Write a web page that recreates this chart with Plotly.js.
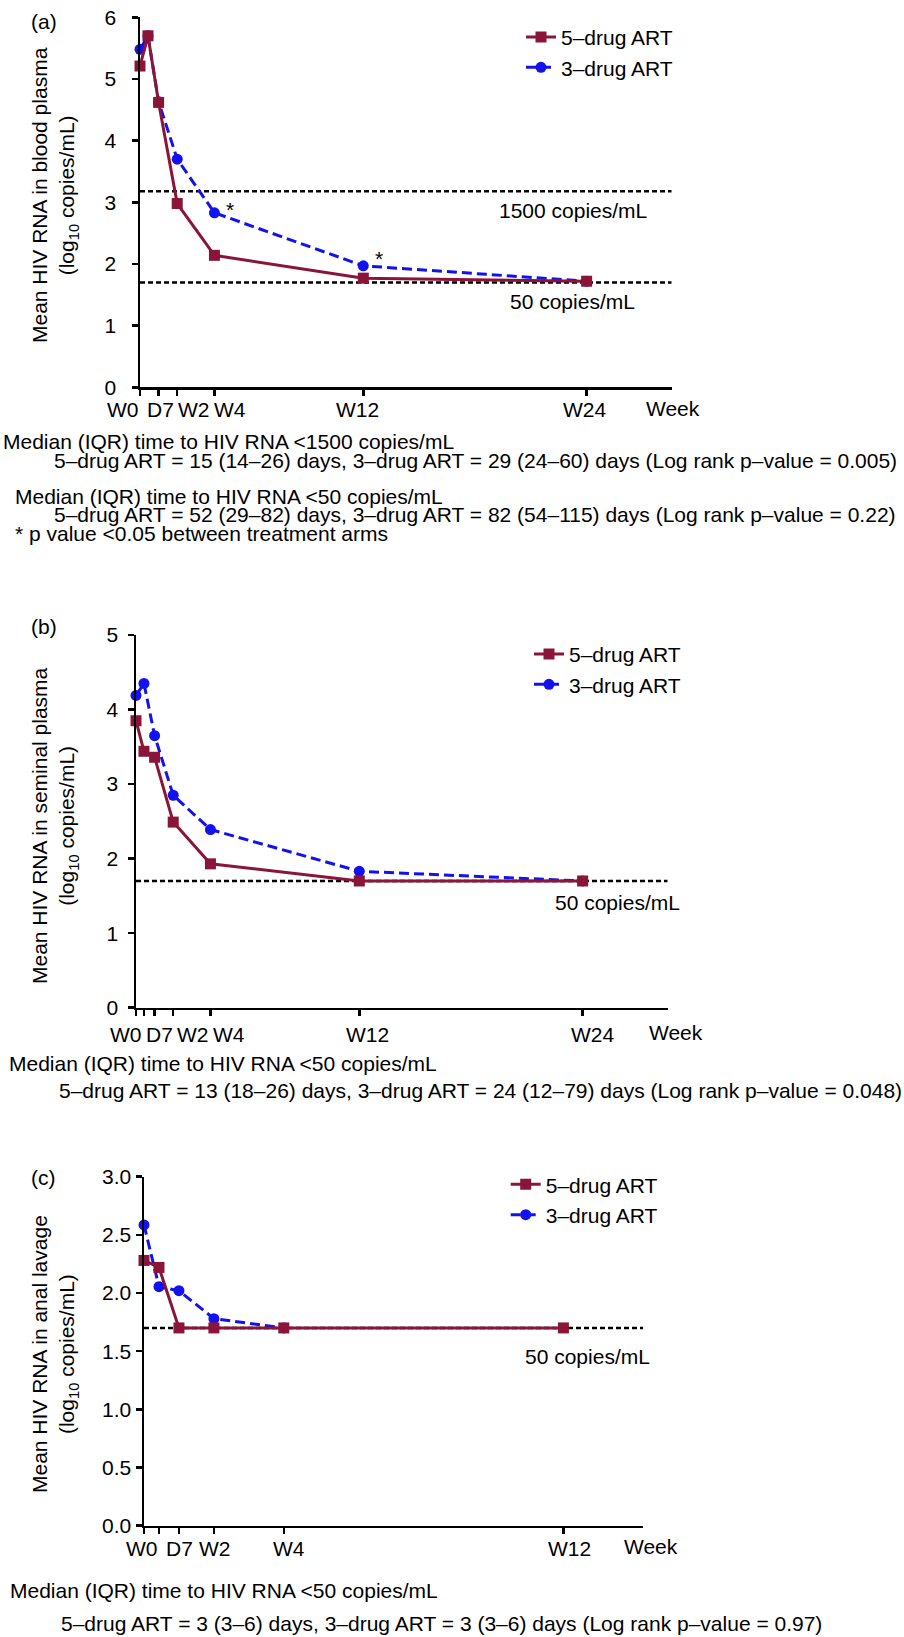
<!DOCTYPE html>
<html><head><meta charset="utf-8">
<script src="https://cdn.plot.ly/plotly-3.0.1.min.js"></script>
<style>html,body{margin:0;padding:0;background:#fff}</style>
</head><body>
<div id="chart" style="width:904px;height:1637px"></div>
<script>
// ---------------- data ----------------
const seriesNames = ['5–drug ART', '3–drug ART'];

// (a) blood plasma
const bloodDays5 = [0, 3, 7, 14, 28, 84, 168];
const blood5 = [5.21, 5.70, 4.62, 2.98, 2.14, 1.77, 1.72];
const bloodDays3 = [0, 3, 7, 14, 28, 84, 168];
const blood3 = [5.48, 5.70, 4.63, 3.70, 2.83, 1.97, 1.72];
const bloodTickDays = [0, 7, 14, 28, 84, 168];
const bloodTickLabels = ['W0', 'D7', 'W2', 'W4', 'W12', 'W24'];
const bloodRefLevels = [3.18, 1.70];
const bloodRefLabels = ['1500 copies/mL', '50 copies/mL'];
const bloodStarDays = [28, 84];
const bloodText = [
  'Median (IQR) time to HIV RNA &lt;1500 copies/mL',
  '5–drug ART = 15 (14–26) days, 3–drug ART = 29 (24–60) days (Log rank p–value = 0.005)',
  'Median (IQR) time to HIV RNA &lt;50 copies/mL',
  '5–drug ART = 52 (29–82) days, 3–drug ART = 82 (54–115) days (Log rank p–value = 0.22)',
  '* p value &lt;0.05 between treatment arms'
];

// (b) seminal plasma
const semenDays5 = [0, 3, 7, 14, 28, 84, 168];
const semen5 = [3.85, 3.44, 3.36, 2.49, 1.93, 1.70, 1.70];
const semenDays3 = [0, 3, 7, 14, 28, 84, 168];
const semen3 = [4.19, 4.35, 3.65, 2.85, 2.39, 1.83, 1.70];
const semenTickDays = [0, 3, 7, 14, 28, 84, 168];
const semenTickLabels = ['W0', '', 'D7', 'W2', 'W4', 'W12', 'W24'];
const semenRefLevels = [1.70];
const semenRefLabels = ['50 copies/mL'];
const semenText = [
  'Median (IQR) time to HIV RNA &lt;50 copies/mL',
  '5–drug ART = 13 (18–26) days, 3–drug ART = 24 (12–79) days (Log rank p–value = 0.048)'
];

// (c) anal lavage
const analDays5 = [0, 3, 7, 14, 28, 84];
const anal5 = [2.28, 2.22, 1.70, 1.70, 1.70, 1.70];
const analDays3 = [0, 3, 7, 14, 28];
const anal3 = [2.585, 2.055, 2.02, 1.78, 1.70];
const analTickDays = [0, 3, 7, 14, 28, 84];
const analTickLabels = ['W0', '', 'D7', 'W2', 'W4', 'W12'];
const analRefLevels = [1.70];
const analRefLabels = ['50 copies/mL'];
const analText = [
  'Median (IQR) time to HIV RNA &lt;50 copies/mL',
  '5–drug ART = 3 (3–6) days, 3–drug ART = 3 (3–6) days (Log rank p–value = 0.97)'
];

// ---------------- layout helpers ----------------
const W = 904, H = 1637;
const px = x => x / W;
const py = y => 1 - y / H;
const FONT = '"Liberation Sans", Arial, Helvetica, sans-serif';
const FS = 21;
const MAROON = '#8a1538', BLUE = '#1212ee';

const panels = [
  { tag: '(a)', sfx: '', xDom: [140, 671.7], yDom: [17.3, 387.3], xr: [0, 200], yr: [0, 6], dtick: 1, fmt: 'd',
    standoff: 11, title: 'Mean HIV RNA in blood plasma<br>(log<sub>10</sub> copies/mL)', titleY: 195,
    d5: bloodDays5, v5: blood5, d3: bloodDays3, v3: blood3,
    tickDays: bloodTickDays, tickLabels: bloodTickLabels, tickShift: [-16.7, 1.7, 16.9, 15.2, -6.3, -2], tickLabelY: 410,
    weekX: 673, ref: bloodRefLevels, refLab: bloodRefLabels, refLabPos: [[572.7, 210], [572.8, 301.7]],
    legendPos: [521, 16.85], labelY: 21.7,
    text: bloodText, textPos: [[1, 441.7], [51.7, 460], [13.3, 496.7], [51.7, 515], [13, 533]] },
  { tag: '(b)', sfx: '2', xDom: [136, 667.7], yDom: [635, 1007.7], xr: [0, 200], yr: [0, 5], dtick: 1, fmt: 'd',
    standoff: 5, title: 'Mean HIV RNA in seminal plasma<br>(log<sub>10</sub> copies/mL)', titleY: 826,
    d5: semenDays5, v5: semen5, d3: semenDays3, v3: semen3,
    tickDays: semenTickDays, tickLabels: semenTickLabels, tickShift: [-10, 0, 5, 20, 19, 8.5, 10.5], tickLabelY: 1034,
    weekX: 676, ref: semenRefLevels, refLab: semenRefLabels, refLabPos: [[617, 902.3]],
    legendPos: [529, 633.85], labelY: 626.7,
    text: semenText, textPos: [[7.3, 1063.3], [57.3, 1090]] },
  { tag: '(c)', sfx: '3', xDom: [144, 643.3], yDom: [1176.7, 1525.7], xr: [0, 100], yr: [0, 3], dtick: 0.5, fmt: '.1f',
    standoff: 1.5, title: 'Mean HIV RNA in anal lavage<br>(log<sub>10</sub> copies/mL)', titleY: 1354,
    d5: analDays5, v5: anal5, d3: analDays3, v3: anal3,
    tickDays: analTickDays, tickLabels: analTickLabels, tickShift: [-2, 0, 1, 1, 5, 6.5], tickLabelY: 1548.3,
    weekX: 650.7, ref: analRefLevels, refLab: analRefLabels, refLabPos: [[587.3, 1356.7]],
    legendPos: [505.7, 1164.2], labelY: 1177,
    text: analText, textPos: [[8.3, 1590], [59.3, 1623.3]] }
];

const traces = [];
const shapes = [];
const annotations = [];
const layout = {
  width: W, height: H,
  margin: { l: 0, r: 0, t: 0, b: 0 },
  paper_bgcolor: '#fff', plot_bgcolor: 'rgba(0,0,0,0)',
  font: { family: FONT, size: FS, color: '#000' },
  showlegend: true,
  shapes: shapes, annotations: annotations
};

panels.forEach((p, i) => {
  const xa = 'x' + p.sfx, ya = 'y' + p.sfx;
  const legendId = 'legend' + p.sfx;
  const axCommon = {
    showline: true, linecolor: '#000', linewidth: 2.5,
    ticks: 'outside', ticklen: 6, tickwidth: 2.5, tickcolor: '#000',
    showgrid: false, zeroline: false, fixedrange: true,
    tickfont: { family: FONT, size: FS, color: '#000' }
  };
  layout['xaxis' + p.sfx] = Object.assign({}, axCommon, {
    domain: [px(p.xDom[0]), px(p.xDom[1])], range: p.xr, anchor: ya,
    tickmode: 'array', tickvals: p.tickDays, ticktext: p.tickLabels, showticklabels: false
  });
  layout['yaxis' + p.sfx] = Object.assign({}, axCommon, {
    domain: [py(p.yDom[1]), py(p.yDom[0])], range: p.yr, anchor: xa,
    tickmode: 'linear', tick0: 0, dtick: p.dtick, tickformat: p.fmt, ticklabelstandoff: p.standoff
  });
  layout[legendId] = {
    x: px(p.legendPos[0]), y: py(p.legendPos[1]), xanchor: 'left', yanchor: 'top',
    bgcolor: 'rgba(0,0,0,0)', borderwidth: 0,
    font: { family: FONT, size: FS, color: '#000' }
  };

  // 3-drug below, 5-drug on top
  traces.push({
    type: 'scatter', mode: 'lines+markers', name: seriesNames[1],
    x: p.d3, y: p.v3, xaxis: xa, yaxis: ya, legend: legendId, legendrank: 2,
    line: { color: BLUE, width: 3, dash: '10px,5px' },
    marker: { color: BLUE, size: 11, symbol: 'circle' },
    cliponaxis: false, hoverinfo: 'skip'
  });
  traces.push({
    type: 'scatter', mode: 'lines+markers', name: seriesNames[0],
    x: p.d5, y: p.v5, xaxis: xa, yaxis: ya, legend: legendId, legendrank: 1,
    line: { color: MAROON, width: 3 },
    marker: { color: MAROON, size: 11, symbol: 'square' },
    cliponaxis: false, hoverinfo: 'skip'
  });

  // reference lines
  p.ref.forEach((lvl, k) => {
    shapes.push({
      type: 'line', xref: xa, yref: ya, x0: p.xr[0], x1: p.xr[1], y0: lvl, y1: lvl,
      line: { color: '#000', width: 2.5, dash: '5px,3px' }, layer: 'below'
    });
    annotations.push({
      xref: 'paper', yref: 'paper', x: px(p.refLabPos[k][0]), y: py(p.refLabPos[k][1]),
      xanchor: 'center', yanchor: 'middle', showarrow: false, text: p.refLab[k],
      font: { family: FONT, size: FS, color: '#000' }
    });
  });

  // panel tag
  annotations.push({
    xref: 'paper', yref: 'paper', x: px(43.5), y: py(p.labelY), xanchor: 'center', yanchor: 'middle',
    showarrow: false, text: p.tag, font: { family: FONT, size: FS, color: '#000' }
  });
  // y title
  annotations.push({
    xref: 'paper', yref: 'paper', x: px(55), y: py(p.titleY), xanchor: 'center', yanchor: 'middle',
    showarrow: false, textangle: -90, text: p.title, font: { family: FONT, size: FS, color: '#000' }
  });
  // x tick labels
  p.tickDays.forEach((d, k) => {
    if (!p.tickLabels[k]) return;
    annotations.push({
      xref: xa, yref: 'paper', x: d, y: py(p.tickLabelY), xshift: p.tickShift[k],
      xanchor: 'center', yanchor: 'middle', showarrow: false, text: p.tickLabels[k],
      font: { family: FONT, size: FS, color: '#000' }
    });
  });
  // Week
  annotations.push({
    xref: 'paper', yref: 'paper', x: px(p.weekX), y: py(p.tickLabelY - 2), xanchor: 'center', yanchor: 'middle',
    showarrow: false, text: 'Week', font: { family: FONT, size: FS, color: '#000' }
  });
  // footnote texts
  p.text.forEach((t, k) => {
    annotations.push({
      xref: 'paper', yref: 'paper', x: px(p.textPos[k][0]), y: py(p.textPos[k][1]),
      xanchor: 'left', yanchor: 'middle', showarrow: false, text: t,
      font: { family: FONT, size: FS, color: '#000' }
    });
  });
});

// significance asterisks (panel a, 3-drug points)
const starShift = [[16, 3.7], [16, 7.7]];
bloodStarDays.forEach((d, k) => {
  const idx = bloodDays3.indexOf(d);
  annotations.push({
    xref: 'x', yref: 'y', x: d, y: blood3[idx], xshift: starShift[k][0], yshift: starShift[k][1],
    xanchor: 'center', yanchor: 'middle', showarrow: false, text: '*',
    font: { family: FONT, size: FS, color: '#000' }
  });
});

Plotly.newPlot('chart', traces, layout, { staticPlot: true, displayModeBar: false });
</script>
</body></html>
